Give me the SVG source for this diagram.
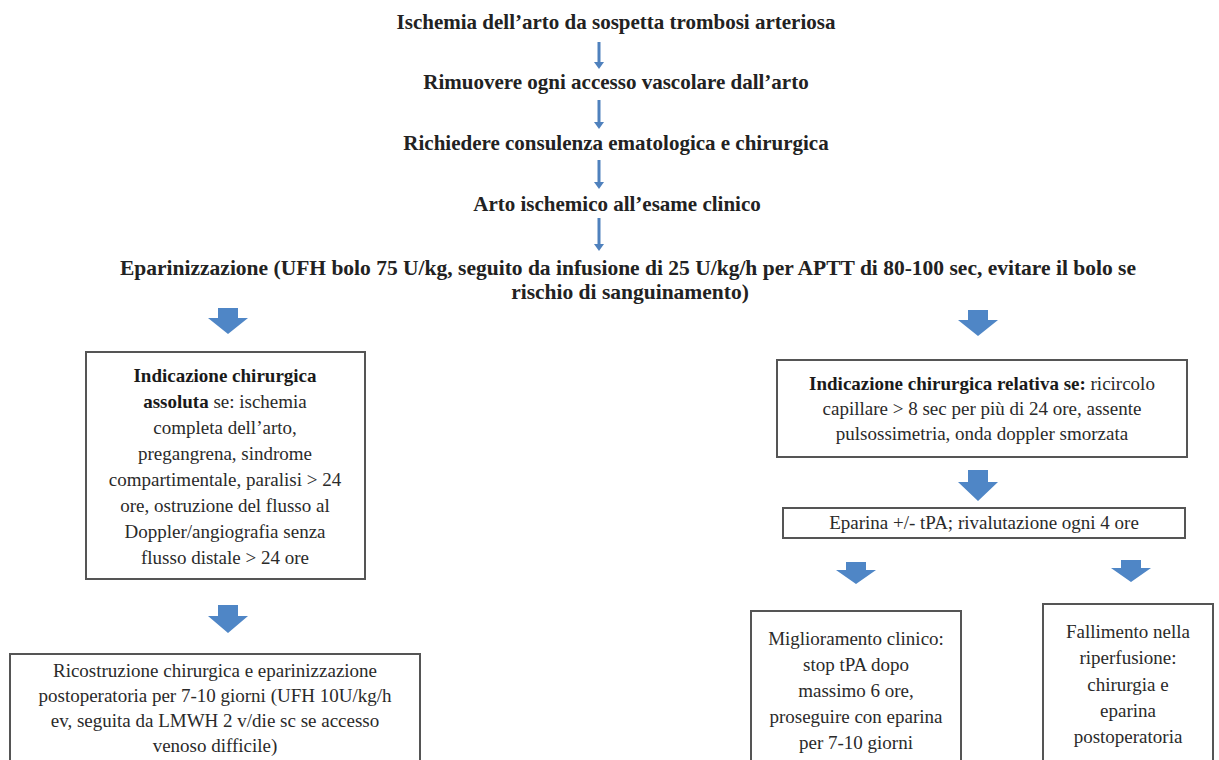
<svg xmlns="http://www.w3.org/2000/svg" width="1219" height="760" viewBox="0 0 1219 760">
<defs>
<style>
text{font-family:"Liberation Serif",Tinos,"Times New Roman","DejaVu Serif",serif;fill:#222;text-anchor:middle}
.h{font-weight:bold;font-size:21px}
.h2{font-weight:bold;font-size:21.5px}
.t{font-size:19px;fill:#2a2a2a}
.b{font-weight:bold;fill:#1a1a1a}
.box{fill:#fff;stroke:#555;stroke-width:2}
.thin{stroke:#4f81bd;stroke-width:3;fill:none}
.head{fill:#4f81bd}
.blk{fill:#4f86c6}
</style>
</defs>
<rect width="1219" height="760" fill="#fff"/>
<g id="connectors">
<path class="thin" d="M599,42 V64"/><path class="head" d="M594,62 L604,62 L599,69 Z"/>
<path class="thin" d="M599,100 V124"/><path class="head" d="M594,122 L604,122 L599,129 Z"/>
<path class="thin" d="M599,160 V184"/><path class="head" d="M594,182 L604,182 L599,189 Z"/>
<path class="thin" d="M599,218 V246"/><path class="head" d="M594,244 L604,244 L599,251 Z"/>
<path class="blk" d="M218,308 H238 V318 H248 L228,334 L208,318 H218 Z"/>
<path class="blk" d="M968,310 H988 V320 H998 L978,336 L958,320 H968 Z"/>
<path class="blk" d="M968,470 H988 V482 H998 L978,501 L958,482 H968 Z"/>
<path class="blk" d="M846,562 H866 V570 H876 L856,584 L836,570 H846 Z"/>
<path class="blk" d="M1121,560 H1141 V568 H1151 L1131,582 L1111,568 H1121 Z"/>
<path class="blk" d="M218,605 H238 V616 H248 L228,633 L208,616 H218 Z"/>
</g>
<g id="n1"><text class="h" x="616" y="29">Ischemia dell’arto da sospetta trombosi arteriosa</text></g>
<g id="n2"><text class="h" x="616" y="89">Rimuovere ogni accesso vascolare dall’arto</text></g>
<g id="n3"><text class="h" x="616" y="150">Richiedere consulenza ematologica e chirurgica</text></g>
<g id="n4"><text class="h" x="617" y="211">Arto ischemico all’esame clinico</text></g>
<g id="n5"><text class="h2" x="628" y="275">Eparinizzazione (UFH bolo 75 U/kg, seguito da infusione di 25 U/kg/h per APTT di 80-100 sec, evitare il bolo se</text>
<text class="h2" x="630" y="299">rischio di sanguinamento)</text></g>
<g id="n6"><rect class="box" x="86" y="352" width="279" height="227"/>
<text class="t" x="225" y="382"><tspan class="b">Indicazione chirurgica</tspan></text>
<text class="t" x="225" y="408"><tspan class="b">assoluta</tspan> se: ischemia</text>
<text class="t" x="225" y="434">completa dell’arto,</text>
<text class="t" x="225" y="460">pregangrena, sindrome</text>
<text class="t" x="225" y="486">compartimentale, paralisi &gt; 24</text>
<text class="t" x="225" y="512">ore, ostruzione del flusso al</text>
<text class="t" x="225" y="538">Doppler/angiografia senza</text>
<text class="t" x="225" y="564">flusso distale &gt; 24 ore</text></g>
<g id="n7"><rect class="box" x="777" y="360" width="410" height="97"/>
<text class="t" x="982" y="390"><tspan class="b">Indicazione chirurgica relativa se:</tspan> ricircolo</text>
<text class="t" x="982" y="415">capillare &gt; 8 sec per più di 24 ore, assente</text>
<text class="t" x="982" y="440">pulsossimetria, onda doppler smorzata</text></g>
<g id="n8"><rect class="box" x="783" y="508" width="402" height="30"/>
<text class="t" x="984" y="529">Eparina +/- tPA; rivalutazione ogni 4 ore</text></g>
<g id="n9"><rect class="box" x="10" y="654" width="410" height="120"/>
<text class="t" x="215" y="677">Ricostruzione chirurgica e eparinizzazione</text>
<text class="t" x="215" y="702">postoperatoria per 7-10 giorni (UFH 10U/kg/h</text>
<text class="t" x="215" y="727">ev, seguita da LMWH 2 v/die sc se accesso</text>
<text class="t" x="215" y="752">venoso difficile)</text></g>
<g id="n10"><rect class="box" x="751" y="611" width="210" height="160"/>
<text class="t" x="856" y="645">Miglioramento clinico:</text>
<text class="t" x="856" y="671">stop tPA dopo</text>
<text class="t" x="856" y="697">massimo 6 ore,</text>
<text class="t" x="856" y="723">proseguire con eparina</text>
<text class="t" x="856" y="749">per 7-10 giorni</text></g>
<g id="n11"><rect class="box" x="1043" y="604" width="170" height="167"/>
<text class="t" x="1128" y="638">Fallimento nella</text>
<text class="t" x="1128" y="664">riperfusione:</text>
<text class="t" x="1128" y="691">chirurgia e</text>
<text class="t" x="1128" y="717">eparina</text>
<text class="t" x="1128" y="743">postoperatoria</text></g>
</svg>
